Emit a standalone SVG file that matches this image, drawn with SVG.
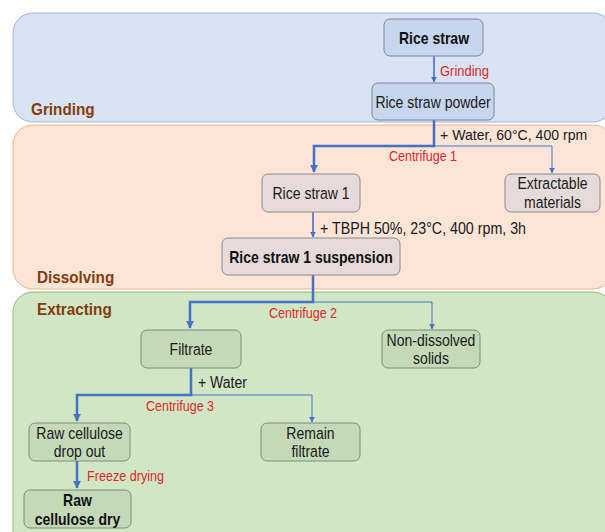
<svg xmlns="http://www.w3.org/2000/svg" width="605" height="532" viewBox="0 0 605 532">
<defs>
<marker id="ah" viewBox="0 0 10 10" refX="9" refY="5" markerWidth="6" markerHeight="6" markerUnits="userSpaceOnUse" orient="auto">
<path d="M0,0 L10,5 L0,10 z" fill="#4472c4"/>
</marker>
<marker id="ahb" viewBox="0 0 10 10" refX="9" refY="5" markerWidth="8" markerHeight="8" markerUnits="userSpaceOnUse" orient="auto">
<path d="M0,0 L10,5 L0,10 z" fill="#4472c4"/>
</marker>
</defs>
<style>
text{font-family:"Liberation Sans",Arial,sans-serif;}
.sec{font-size:17px;font-weight:bold;fill:#843c0c;}
.n{font-size:16.5px;fill:#1a1a1a;text-anchor:middle;}
.b{font-size:16.5px;font-weight:bold;fill:#111;text-anchor:middle;}
.red{font-size:14px;fill:#e0262b;}
.cond{font-size:16px;fill:#1a1a1a;}
.thick{stroke:#4472c4;stroke-width:2.5;fill:none;}
.thin{stroke:#4472c4;stroke-width:1;fill:none;}
.mid{stroke:#4472c4;stroke-width:1.6;fill:none;}
.gn{fill:#c6d6ee;stroke:#7f8590;stroke-width:1;}
.dn{fill:#e6dada;stroke:#8a8a8a;stroke-width:1;}
.en{fill:#c3d9b8;stroke:#7e8c7a;stroke-width:1;}
</style>
<rect width="605" height="532" fill="#ffffff"/>
<g id="panels">
<rect id="panel-grinding" x="13" y="13" width="600" height="109" rx="20" fill="#dae3f3" stroke="#9fb6dc" stroke-width="1"/>
<rect id="panel-dissolving" x="13" y="125" width="600" height="164" rx="20" fill="#fce4d6" stroke="#eeb38a" stroke-width="1"/>
<rect id="panel-extracting" x="13" y="292" width="600" height="260" rx="20" fill="#d0e6c4" stroke="#8fbc75" stroke-width="1"/>
<text class="sec" transform="translate(31,115) scale(0.9,1)">Grinding</text>
<text class="sec" transform="translate(37,283) scale(0.9,1)">Dissolving</text>
<text class="sec" transform="translate(37,315) scale(0.9,1)">Extracting</text>
</g>
<g id="connectors">
<line class="mid" x1="434" y1="56" x2="434" y2="82" marker-end="url(#ah)"/>
<polyline class="thick" points="434,120 434,146 314,146 314,172" marker-end="url(#ahb)"/>
<polyline class="thin" points="434,146 552,146 552,173" marker-end="url(#ah)"/>
<line class="mid" x1="313" y1="212" x2="313" y2="237" marker-end="url(#ah)"/>
<polyline class="thick" points="313,275 313,302 190,302 190,328" marker-end="url(#ahb)"/>
<polyline class="thin" points="313,302 432,302 432,329" marker-end="url(#ah)"/>
<polyline class="thick" points="191,368 191,395 77,395 77,421" marker-end="url(#ahb)"/>
<polyline class="thin" points="191,395 312,395 312,422" marker-end="url(#ah)"/>
<line class="thick" x1="77" y1="461" x2="77" y2="488" marker-end="url(#ahb)"/>
<text class="red" x="440" y="76" textLength="49" lengthAdjust="spacingAndGlyphs">Grinding</text>
<text x="440" y="140" font-size="14.1" fill="#1a1a1a">+ Water, 60°C, 400 rpm</text>
<text class="red" x="389" y="161" textLength="68" lengthAdjust="spacingAndGlyphs">Centrifuge 1</text>
<text class="cond" x="320" y="234" textLength="206" lengthAdjust="spacingAndGlyphs">+ TBPH 50%, 23°C, 400 rpm, 3h</text>
<text class="red" x="269" y="318" textLength="68" lengthAdjust="spacingAndGlyphs">Centrifuge 2</text>
<text class="cond" x="198" y="388" textLength="49" lengthAdjust="spacingAndGlyphs">+ Water</text>
<text class="red" x="146" y="411" textLength="68" lengthAdjust="spacingAndGlyphs">Centrifuge 3</text>
<text class="red" x="87" y="481" textLength="77" lengthAdjust="spacingAndGlyphs">Freeze drying</text>
</g>
<g id="node-rice-straw">
<rect class="gn" x="384" y="19" width="99" height="37" rx="6"/>
<text class="b" transform="translate(434,43.5) scale(0.85,1)">Rice straw</text>
</g>
<g id="node-rice-straw-powder">
<rect class="gn" x="372" y="83" width="122" height="37" rx="6"/>
<text class="n" transform="translate(433,107.5) scale(0.85,1)">Rice straw powder</text>
</g>
<g id="node-rice-straw-1">
<rect class="dn" x="262" y="174" width="98" height="38" rx="6"/>
<text class="n" transform="translate(311,199) scale(0.85,1)">Rice straw 1</text>
</g>
<g id="node-extractable">
<rect class="dn" x="505" y="174" width="95" height="38" rx="6"/>
<text class="n" transform="translate(552.5,189) scale(0.85,1)">Extractable</text>
<text class="n" transform="translate(552.5,207.5) scale(0.85,1)">materials</text>
</g>
<g id="node-suspension">
<rect class="dn" x="222" y="238" width="178" height="37" rx="6"/>
<text class="b" transform="translate(311,262.5) scale(0.85,1)">Rice straw 1 suspension</text>
</g>
<g id="node-filtrate">
<rect class="en" x="141" y="330" width="100" height="38" rx="6"/>
<text class="n" transform="translate(191,355) scale(0.85,1)">Filtrate</text>
</g>
<g id="node-non-dissolved">
<rect class="en" x="382" y="330" width="98" height="38" rx="6"/>
<text class="n" transform="translate(431,345.5) scale(0.85,1)">Non-dissolved</text>
<text class="n" transform="translate(431,364) scale(0.85,1)">solids</text>
</g>
<g id="node-raw-cellulose-drop">
<rect class="en" x="29" y="423" width="101" height="38" rx="6"/>
<text class="n" transform="translate(79.5,438.5) scale(0.85,1)">Raw cellulose</text>
<text class="n" transform="translate(79.5,457) scale(0.85,1)">drop out</text>
</g>
<g id="node-remain-filtrate">
<rect class="en" x="261" y="423" width="99" height="38" rx="6"/>
<text class="n" transform="translate(310.5,438.5) scale(0.85,1)">Remain</text>
<text class="n" transform="translate(310.5,457) scale(0.85,1)">filtrate</text>
</g>
<g id="node-raw-cellulose-dry">
<rect class="en" x="24" y="490" width="107" height="38" rx="6"/>
<text class="b" transform="translate(77.5,505.5) scale(0.85,1)">Raw</text>
<text class="b" transform="translate(77.5,525) scale(0.85,1)">cellulose dry</text>
</g>
</svg>
